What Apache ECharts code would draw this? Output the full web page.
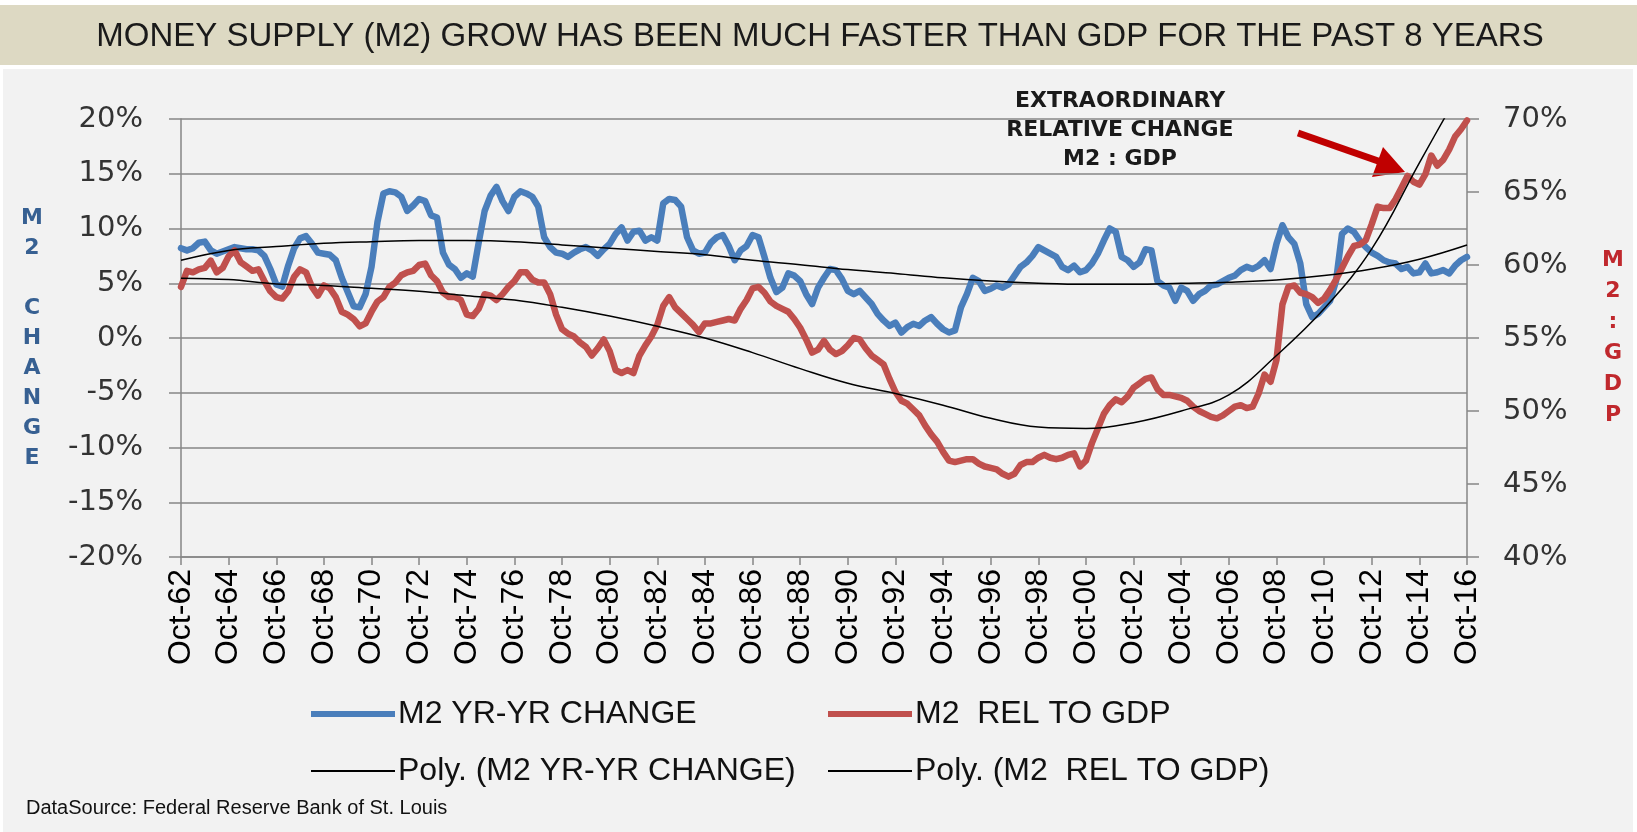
<!DOCTYPE html>
<html><head><meta charset="utf-8">
<script src="https://cdn.jsdelivr.net/npm/echarts@6/dist/echarts.min.js"></script>
<style>html,body{margin:0;padding:0;background:#fff}#c{width:1637px;height:832px}</style>
</head><body><div id="c"></div>
<script>
// Tick labels on the time axis (every 2 years, Oct-62 .. Oct-16)
const xLabels = ['Oct-62','Oct-64','Oct-66','Oct-68','Oct-70','Oct-72','Oct-74','Oct-76','Oct-78','Oct-80',
  'Oct-82','Oct-84','Oct-86','Oct-88','Oct-90','Oct-92','Oct-94','Oct-96','Oct-98','Oct-00',
  'Oct-02','Oct-04','Oct-06','Oct-08','Oct-10','Oct-12','Oct-14','Oct-16'];

// M2 year-over-year change (%), quarterly from Oct-62
const m2Change = [
  8.2, 8.0, 8.2, 8.7, 8.8, 8.0, 7.7, 7.9, 8.1, 8.3,
  8.2, 8.1, 8.1, 8.0, 7.5, 6.3, 4.9, 4.7, 6.6, 8.2,
  9.1, 9.3, 8.6, 7.8, 7.7, 7.6, 7.1, 5.5, 4.2, 2.9,
  2.8, 4.0, 6.5, 10.6, 13.2, 13.4, 13.3, 12.9, 11.6, 12.1,
  12.7, 12.5, 11.2, 11.0, 7.8, 6.7, 6.3, 5.5, 5.9, 5.6,
  8.7, 11.6, 13.0, 13.8, 12.5, 11.6, 12.9, 13.4, 13.2, 12.9,
  12.0, 9.2, 8.3, 7.8, 7.7, 7.4, 7.8, 8.1, 8.3, 8.0,
  7.5, 8.1, 8.6, 9.5, 10.1, 8.9, 9.7, 9.8, 8.9, 9.2,
  8.9, 12.3, 12.7, 12.6, 12.0, 9.2, 8.0, 7.7, 7.8, 8.7,
  9.2, 9.4, 8.4, 7.1, 8.0, 8.4, 9.4, 9.2, 7.4, 5.5,
  4.2, 4.6, 5.9, 5.7, 5.2, 4.0, 3.1, 4.6, 5.5, 6.3,
  6.2, 5.4, 4.3, 4.0, 4.3, 3.7, 3.1, 2.2, 1.6, 1.1,
  1.4, 0.5, 1.0, 1.3, 1.1, 1.6, 1.9, 1.3, 0.8, 0.5,
  0.7, 2.8, 4.0, 5.5, 5.2, 4.3, 4.5, 4.8, 4.6, 4.9,
  5.7, 6.5, 6.9, 7.5, 8.3, 8.0, 7.7, 7.4, 6.5, 6.2,
  6.6, 6.0, 6.2, 6.8, 7.7, 8.9, 10.0, 9.7, 7.4, 7.1,
  6.5, 6.9, 8.1, 8.0, 5.2, 4.8, 4.6, 3.4, 4.6, 4.3,
  3.4, 4.0, 4.3, 4.8, 4.9, 5.2, 5.5, 5.7, 6.2, 6.5,
  6.3, 6.6, 7.1, 6.3, 8.6, 10.3, 9.2, 8.6, 6.8, 3.1,
  1.9, 2.2, 2.8, 3.4, 5.2, 9.5, 10.0, 9.7, 8.9, 8.3,
  7.8, 7.5, 7.1, 6.9, 6.8, 6.3, 6.5, 5.9, 6.0, 6.8,
  5.9, 6.0, 6.2, 5.9, 6.6, 7.1, 7.4
];

// M2 relative to GDP (%), quarterly from Oct-62
const m2RelGdp = [
  58.5, 59.6, 59.5, 59.7, 59.8, 60.3, 59.5, 59.8, 60.6, 61.0,
  60.2, 59.9, 59.6, 59.7, 58.9, 58.2, 57.8, 57.7, 58.2, 59.2,
  59.7, 59.5, 58.5, 57.9, 58.6, 58.4, 57.8, 56.8, 56.6, 56.3,
  55.8, 56.0, 56.8, 57.5, 57.8, 58.5, 58.8, 59.3, 59.5, 59.6,
  60.0, 60.1, 59.3, 58.9, 58.1, 57.8, 57.8, 57.6, 56.6, 56.5,
  57.0, 58.0, 57.9, 57.6, 58.0, 58.5, 58.9, 59.5, 59.5, 59.0,
  58.8, 58.8, 58.0, 56.6, 55.6, 55.3, 55.1, 54.7, 54.4, 53.8,
  54.3, 54.9, 54.1, 52.8, 52.6, 52.8, 52.6, 53.8, 54.5, 55.1,
  55.9, 57.2, 57.8, 57.1, 56.7, 56.3, 55.9, 55.4, 56.0, 56.0,
  56.1, 56.2, 56.3, 56.2, 57.0, 57.6, 58.4, 58.5, 58.1, 57.5,
  57.2, 57.0, 56.8, 56.3, 55.7, 54.9, 54.0, 54.2, 54.8, 54.2,
  53.9, 54.1, 54.5, 55.0, 54.9, 54.3, 53.8, 53.5, 53.2, 52.2,
  51.3, 50.7, 50.5, 50.1, 49.7, 49.0, 48.4, 47.9, 47.2, 46.6,
  46.5, 46.6, 46.7, 46.7, 46.4, 46.2, 46.1, 46.0, 45.7, 45.5,
  45.7, 46.3, 46.5, 46.5, 46.8, 47.0, 46.8, 46.7, 46.8, 47.0,
  47.1, 46.2, 46.6, 47.8, 48.8, 49.8, 50.4, 50.8, 50.6, 51.0,
  51.6, 51.9, 52.2, 52.3, 51.5, 51.1, 51.1, 51.0, 50.9, 50.7,
  50.3, 50.0, 49.8, 49.6, 49.5, 49.7, 50.0, 50.3, 50.4, 50.2,
  50.3, 51.2, 52.5, 52.0, 53.5, 57.3, 58.5, 58.6, 58.1, 58.0,
  57.8, 57.4, 57.7, 58.3, 59.0, 59.8, 60.6, 61.3, 61.4, 61.7,
  62.8, 64.0, 63.9, 63.9, 64.5, 65.3, 66.1, 65.7, 65.5, 66.2,
  67.5, 66.8, 67.2, 67.9, 68.8, 69.3, 69.9
];

// Polynomial trend lines read every 2 years (at each tick label)
const polyChange = [7.1, 8.0, 8.35, 8.65, 8.8, 8.9, 8.9, 8.8, 8.5, 8.2, 7.9, 7.6, 7.1, 6.7,
  6.25, 5.9, 5.5, 5.2, 5.0, 4.9, 4.9, 5.0, 5.1, 5.3, 5.7, 6.3, 7.2, 8.5];
const polyRelGdp = [59.1, 59.0, 58.7, 58.6, 58.4, 58.2, 57.9, 57.6, 57.1, 56.5, 55.8, 55.0, 54.0, 52.9,
  51.9, 51.2, 50.4, 49.5, 48.9, 48.8, 49.2, 50.0, 51.1, 53.8, 57.0, 61.1, 67.0, 72.8];

const seriesNames = ['M2 YR-YR CHANGE', 'M2  REL TO GDP', 'Poly. (M2 YR-YR CHANGE)', 'Poly. (M2  REL TO GDP)'];
const titleText = 'MONEY SUPPLY (M2) GROW HAS BEEN MUCH FASTER THAN GDP FOR THE PAST 8 YEARS';
const noteText = 'EXTRAORDINARY\nRELATIVE CHANGE\nM2 : GDP';
const sourceText = 'DataSource: Federal Reserve Bank of St. Louis';

const MONTHS_PER_QUARTER = 3, MONTHS_PER_LABEL = 24;
const toPairs = (arr, step) => arr.map((v, i) => [i * step, v]);

const gray = '#868686';
const chart = echarts.init(document.getElementById('c'), null, {renderer: 'canvas'});

function legendAt(name, left, top, h) {
  return {
    data: [name], left: left, top: top, orient: 'horizontal', padding: 0,
    icon: 'rect', itemWidth: 84, itemHeight: h, itemGap: 0,
    textStyle: {fontFamily: 'Liberation Sans', fontSize: 32, color: '#111', padding: [0, 0, 0, -2]},
    selectedMode: false
  };
}

chart.setOption({
  animation: false,
  backgroundColor: '#f2f2f2',
  grid: {left: 181, right: 170, top: 119, bottom: 275, containLabel: false},
  xAxis: {
    type: 'value', min: 0, max: 648, interval: MONTHS_PER_LABEL,
    axisLine: {show: true, onZero: false, lineStyle: {color: gray, width: 1.5}},
    axisTick: {show: true, length: 8, lineStyle: {color: gray, width: 1.5}},
    splitLine: {show: false},
    axisLabel: {
      rotate: 90, margin: 12, fontFamily: 'Liberation Sans', fontSize: 32, color: '#000',
      formatter: v => xLabels[Math.round(v / MONTHS_PER_LABEL)]
    }
  },
  yAxis: [{
    type: 'value', min: -20, max: 20, interval: 5, position: 'left',
    axisLine: {show: true, onZero: false, lineStyle: {color: gray, width: 1.5}},
    axisTick: {show: true, length: 12, lineStyle: {color: gray, width: 1.5}},
    splitLine: {show: true, lineStyle: {color: gray, width: 1.5}},
    axisLabel: {formatter: '{value}%', margin: 38, fontFamily: 'DejaVu Sans', fontSize: 29, color: '#333'},
    name: 'M\n2\n\nC\nH\nA\nN\nG\nE', nameLocation: 'middle', nameGap: 149, nameRotate: 0,
    nameTextStyle: {fontFamily: 'DejaVu Sans', fontWeight: 'bold', fontSize: 22, color: '#376092',
      lineHeight: 30, align: 'center', verticalAlign: 'middle', padding: [36, 0, 0, 0]}
  }, {
    type: 'value', min: 40, max: 70, interval: 5, position: 'right',
    axisLine: {show: true, onZero: false, lineStyle: {color: gray, width: 1.5}},
    axisTick: {show: true, length: 12, lineStyle: {color: gray, width: 1.5}},
    splitLine: {show: false},
    axisLabel: {formatter: '{value}%', margin: 36, fontFamily: 'DejaVu Sans', fontSize: 29, color: '#333'},
    name: 'M\n2\n:\nG\nD\nP', nameLocation: 'middle', nameGap: 146, nameRotate: 0,
    nameTextStyle: {fontFamily: 'DejaVu Sans', fontWeight: 'bold', fontSize: 22, color: '#C0282D',
      lineHeight: 31, align: 'center', verticalAlign: 'middle', padding: [40, 0, 0, 0]}
  }],
  legend: [
    legendAt(seriesNames[0], 311, 698, 6),
    legendAt(seriesNames[1], 828, 698, 6),
    legendAt(seriesNames[2], 311, 755, 2),
    legendAt(seriesNames[3], 828, 755, 2)
  ],
  series: [{
    name: seriesNames[0], type: 'line', yAxisIndex: 0, data: toPairs(m2Change, MONTHS_PER_QUARTER),
    showSymbol: false, symbol: 'none', z: 2,
    itemStyle: {color: '#4A7EBB'},
    lineStyle: {color: '#4A7EBB', width: 6.5, join: 'round', cap: 'round'}
  }, {
    name: seriesNames[1], type: 'line', yAxisIndex: 1, data: toPairs(m2RelGdp, MONTHS_PER_QUARTER),
    showSymbol: false, symbol: 'none', z: 3,
    itemStyle: {color: '#C0504D'},
    lineStyle: {color: '#C0504D', width: 6.5, join: 'round', cap: 'round'}
  }, {
    name: seriesNames[2], type: 'line', yAxisIndex: 0, data: toPairs(polyChange, MONTHS_PER_LABEL),
    smooth: 0.4, showSymbol: false, symbol: 'none', z: 4,
    itemStyle: {color: '#000'}, lineStyle: {color: '#000', width: 1.5}
  }, {
    name: seriesNames[3], type: 'line', yAxisIndex: 1, data: toPairs(polyRelGdp, MONTHS_PER_LABEL),
    smooth: 0.4, showSymbol: false, symbol: 'none', z: 4, clip: true,
    itemStyle: {color: '#000'}, lineStyle: {color: '#000', width: 1.5}
  }],
  graphic: [
    {type: 'rect', shape: {x: 0, y: 0, width: 1637, height: 5}, style: {fill: '#ffffff'}, silent: true},
    {type: 'rect', shape: {x: 0, y: 5, width: 1637, height: 60}, style: {fill: '#DDD9C3'}, silent: true},
    {type: 'rect', shape: {x: 0, y: 65, width: 1637, height: 4}, style: {fill: '#ffffff'}, silent: true},
    {type: 'rect', shape: {x: 0, y: 69, width: 3, height: 763}, style: {fill: '#ffffff'}, silent: true},
    {type: 'rect', shape: {x: 1633, y: 69, width: 4, height: 763}, style: {fill: '#ffffff'}, silent: true},
    {type: 'text', x: 820, y: 37, silent: true,
      style: {text: titleText, fontFamily: 'Liberation Sans', fontSize: 33, fill: '#1a1a1a',
        align: 'center', verticalAlign: 'middle'}},
    {type: 'text', x: 1120, y: 130, silent: true,
      style: {text: noteText, fontFamily: 'DejaVu Sans', fontWeight: 'bold', fontSize: 22, lineHeight: 29,
        fill: '#1a1a1a', align: 'center', verticalAlign: 'middle'}},
    {type: 'line', silent: true, shape: {x1: 1298, y1: 133, x2: 1381, y2: 162},
      style: {stroke: '#C00000', lineWidth: 7}},
    {type: 'polygon', silent: true, shape: {points: [[1405, 172], [1383, 147], [1372, 177]]},
      style: {fill: '#C00000'}},
    {type: 'text', x: 26, y: 808, silent: true,
      style: {text: sourceText, fontFamily: 'Liberation Sans', fontSize: 20, fill: '#111',
        align: 'left', verticalAlign: 'middle'}}
  ]
});
</script>
</body></html>
